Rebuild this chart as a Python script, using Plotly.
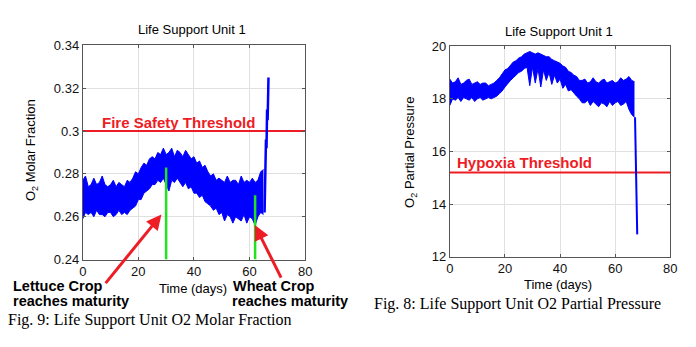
import plotly.graph_objects as go

# ---------------- data ----------------
# Life Support Unit 1 - O2 molar fraction (daily envelope of the noisy signal)
days_frac = list(range(66))
frac_upper = [0.277, 0.279, 0.274, 0.275, 0.278, 0.275, 0.276, 0.279, 0.275, 0.274,
              0.275, 0.277, 0.274, 0.276, 0.275, 0.274, 0.277, 0.276, 0.278, 0.281,
              0.280, 0.283, 0.285, 0.284, 0.287, 0.288, 0.287, 0.290, 0.289, 0.292,
              0.289, 0.290, 0.292, 0.288, 0.291, 0.290, 0.288, 0.291, 0.289, 0.287,
              0.288, 0.285, 0.286, 0.283, 0.284, 0.281, 0.279, 0.280, 0.277, 0.278,
              0.277, 0.276, 0.279, 0.276, 0.277, 0.277, 0.275, 0.279, 0.276, 0.277,
              0.276, 0.278, 0.276, 0.277, 0.281, 0.282]
frac_lower = [0.259, 0.262, 0.261, 0.262, 0.260, 0.263, 0.261, 0.261, 0.260, 0.262,
              0.262, 0.260, 0.261, 0.263, 0.261, 0.262, 0.261, 0.263, 0.264, 0.265,
              0.268, 0.268, 0.271, 0.272, 0.273, 0.275, 0.275, 0.277, 0.276, 0.278,
              0.275, 0.272, 0.277, 0.276, 0.278, 0.276, 0.274, 0.276, 0.273, 0.274,
              0.271, 0.271, 0.269, 0.270, 0.267, 0.266, 0.265, 0.263, 0.264, 0.261,
              0.262, 0.258, 0.261, 0.260, 0.257, 0.260, 0.259, 0.258, 0.261, 0.257,
              0.260, 0.259, 0.256, 0.260, 0.262, 0.261]
# final O2 surge
spike_days = [65.4, 65.7, 65.9, 66.1, 66.3, 66.5, 66.7, 66.8]
spike_frac = [0.262, 0.284, 0.296, 0.292, 0.310, 0.305, 0.318, 0.325]

# crop maturity markers (day, top of marker)
lettuce_day, lettuce_top = 30, 0.283
wheat_day, wheat_top = 62, 0.270
fire_threshold = 0.30

# Life Support Unit 1 - O2 partial pressure (daily envelope)
days_pp = list(range(68))
pp_upper = [18.75, 18.6, 18.65, 18.8, 18.55, 18.6, 18.7, 18.75, 18.55, 18.6,
            18.65, 18.55, 18.6, 18.6, 18.5, 18.55, 18.6, 18.7, 18.8, 18.95,
            19.1, 19.15, 19.3, 19.4, 19.45, 19.55, 19.6, 19.7, 19.75, 19.8,
            19.75, 19.7, 19.75, 19.7, 19.65, 19.6, 19.6, 19.5, 19.45, 19.4,
            19.35, 19.25, 19.2, 19.05, 19.0, 18.9, 18.85, 18.7, 18.7, 18.75,
            18.6, 18.65, 18.8, 18.65, 18.6, 18.7, 18.75, 18.6, 18.65, 18.7,
            18.6, 18.65, 18.8, 18.7, 18.75, 18.85, 18.7, 18.65]
pp_lower = [17.75, 18.0, 17.95, 18.05, 17.9, 18.05, 18.0, 17.95, 18.05, 17.9,
            18.0, 18.05, 17.95, 18.0, 18.05, 18.0, 18.05, 18.1, 18.2, 18.3,
            18.45, 18.6, 18.7, 18.8, 18.9, 19.0, 19.05, 19.15, 19.2, 18.5,
            19.2, 18.6, 19.15, 18.45, 19.1, 18.7, 19.0, 18.55, 18.9, 18.6,
            18.75, 18.4, 18.55, 18.3, 18.35, 18.2, 18.1, 18.0, 17.85, 17.85,
            17.95, 17.75, 17.9, 17.8, 17.7, 17.85, 17.8, 17.7, 17.9, 17.75,
            17.85, 17.9, 17.75, 17.8, 17.9, 17.6, 17.4, 17.3]
# final O2 collapse
drop_days = [67.2, 67.4, 67.6, 67.8, 67.9, 68.0]
drop_pp = [17.3, 16.2, 15.2, 14.9, 14.0, 12.85]
hypoxia_threshold = 15.2

time_ticks = [0, 20, 40, 60, 80]
frac_ticks = [0.24, 0.26, 0.28, 0.30, 0.32, 0.34]
frac_tick_text = ["0.24", "0.26", "0.28", "0.3", "0.32", "0.34"]
pp_ticks = [12, 14, 16, 18, 20]

# ---------------- styling ----------------
BLUE = "#0000ff"
RED = "#ee1c25"
GREEN = "#22e022"
SANS = "Arial, Liberation Sans, sans-serif"
SERIF = "Times New Roman, Liberation Serif, serif"
W, H = 696, 347


def px_x(p):
    return p / W


def px_y(p):
    return 1 - p / H


fig = go.Figure()

# threshold lines (under the signal)
fig.add_trace(go.Scatter(x=[0, 80], y=[fire_threshold] * 2, mode="lines",
                         line=dict(color=RED, width=2), xaxis="x", yaxis="y"))
fig.add_trace(go.Scatter(x=[0, 80], y=[hypoxia_threshold] * 2, mode="lines",
                         line=dict(color=RED, width=2), xaxis="x2", yaxis="y2"))

# molar fraction band
fig.add_trace(go.Scatter(x=days_frac, y=frac_lower, mode="lines",
                         line=dict(color=BLUE, width=1), xaxis="x", yaxis="y"))
fig.add_trace(go.Scatter(x=days_frac, y=frac_upper, mode="lines", fill="tonexty",
                         fillcolor=BLUE, line=dict(color=BLUE, width=1),
                         xaxis="x", yaxis="y"))
fig.add_trace(go.Scatter(x=spike_days, y=spike_frac, mode="lines",
                         line=dict(color=BLUE, width=2.5), xaxis="x", yaxis="y"))

# maturity markers
fig.add_trace(go.Scatter(x=[lettuce_day, lettuce_day], y=[0.24, lettuce_top], mode="lines",
                         line=dict(color=GREEN, width=2.5), xaxis="x", yaxis="y"))
fig.add_trace(go.Scatter(x=[wheat_day, wheat_day], y=[0.24, wheat_top], mode="lines",
                         line=dict(color=GREEN, width=2.5), xaxis="x", yaxis="y"))

# partial pressure band
fig.add_trace(go.Scatter(x=days_pp, y=pp_lower, mode="lines",
                         line=dict(color=BLUE, width=1), xaxis="x2", yaxis="y2"))
fig.add_trace(go.Scatter(x=days_pp, y=pp_upper, mode="lines", fill="tonexty",
                         fillcolor=BLUE, line=dict(color=BLUE, width=1),
                         xaxis="x2", yaxis="y2"))
fig.add_trace(go.Scatter(x=drop_days, y=drop_pp, mode="lines",
                         line=dict(color=BLUE, width=2), xaxis="x2", yaxis="y2"))

axis_common = dict(showline=True, linecolor="#555555", linewidth=1, mirror="ticks",
                   ticks="inside", ticklen=3, tickcolor="#555555",
                   showgrid=True, gridcolor="#e0e0e0", gridwidth=1, zeroline=False,
                   tickfont=dict(family=SANS, size=13, color="#111111"))

fig.update_layout(
    width=W, height=H, margin=dict(l=0, r=0, t=0, b=0),
    paper_bgcolor="white", plot_bgcolor="white", showlegend=False,
    xaxis=dict(domain=[px_x(80), px_x(306)], range=[0, 80], tickvals=time_ticks,
               anchor="y", **axis_common),
    yaxis=dict(domain=[px_y(264), px_y(40)], range=[0.24, 0.34], tickvals=frac_ticks,
               ticktext=frac_tick_text, anchor="x", **axis_common),
    xaxis2=dict(domain=[px_x(453), px_x(677)], range=[0, 80], tickvals=time_ticks,
                anchor="y2", **axis_common),
    yaxis2=dict(domain=[px_y(261), px_y(41)], range=[12, 20], tickvals=pp_ticks,
                anchor="x2", **axis_common),
)


def label(text, x, y, size=13, bold=False, color="black", family=SANS,
          xanchor="center", angle=0):
    if bold:
        text = f"<b>{text}</b>"
    fig.add_annotation(text=text, x=px_x(x), y=px_y(y), xref="paper", yref="paper",
                       xanchor=xanchor, yanchor="middle", showarrow=False,
                       textangle=angle, font=dict(family=family, size=size, color=color))


# titles and axis labels
label("Life Support Unit 1", 191, 24)
label("Life Support Unit 1", 564, 26)
label("Time (days)", 192, 294)
label("Time (days)", 563, 290)
label("O<sub>2</sub> Molar Fraction", 28, 150, angle=-90)
label("O<sub>2</sub> Partial Pressure", 413, 152, angle=-90)

# threshold labels
label("Fire Safety Threshold", 98, 121, size=15, bold=True, color=RED, xanchor="left")
label("Hypoxia Threshold", 458, 163, size=15, bold=True, color=RED, xanchor="left")

# crop labels
label("Lettuce Crop", 7, 292, size=14.5, bold=True, xanchor="left")
label("reaches maturity", 7, 307, size=14.5, bold=True, xanchor="left")
label("Wheat Crop", 231, 292, size=14.5, bold=True, xanchor="left")
label("reaches maturity", 230, 307, size=14.5, bold=True, xanchor="left")

# arrows pointing at the maturity markers
fig.add_annotation(x=28.3, y=0.261, xref="x", yref="y", ax=-57, ay=70, text="",
                   showarrow=True, arrowhead=2, arrowsize=1, arrowwidth=3, arrowcolor=RED)
fig.add_annotation(x=61.9, y=0.2561, xref="x", yref="y", ax=27, ay=54, text="",
                   showarrow=True, arrowhead=2, arrowsize=1, arrowwidth=3, arrowcolor=RED)

# figure captions
label("Fig. 9: Life Support Unit O2 Molar Fraction", 2, 327, size=16,
      family=SERIF, xanchor="left")
label("Fig. 8: Life Support Unit O2 Partial Pressure", 374, 310, size=16,
      family=SERIF, xanchor="left")

fig.write_html("out.html")
